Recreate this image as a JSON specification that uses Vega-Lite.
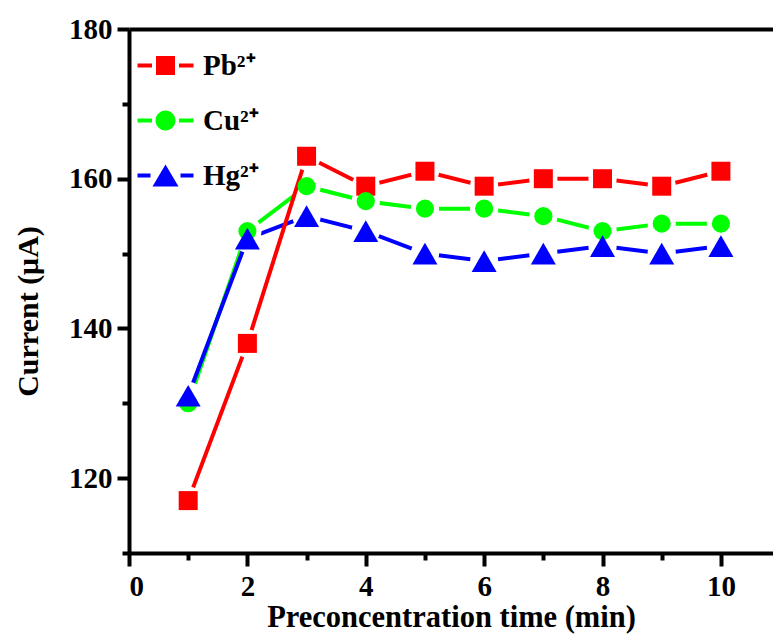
{
  "$schema": "https://vega.github.io/schema/vega-lite/v6.json",
  "width": 644,
  "height": 524,
  "autosize": {"type": "none"},
  "padding": {"left": 129, "top": 29, "right": 0, "bottom": 86},
  "background": "white",
  "config": {"view": {"stroke": null}, "font": "Liberation Serif"},
  "data": {
    "values": [
      {"ion": "Pb", "time": 1, "current": 117},
      {"ion": "Pb", "time": 2, "current": 138},
      {"ion": "Pb", "time": 3, "current": 163},
      {"ion": "Pb", "time": 4, "current": 159},
      {"ion": "Pb", "time": 5, "current": 161},
      {"ion": "Pb", "time": 6, "current": 159},
      {"ion": "Pb", "time": 7, "current": 160},
      {"ion": "Pb", "time": 8, "current": 160},
      {"ion": "Pb", "time": 9, "current": 159},
      {"ion": "Pb", "time": 10, "current": 161},
      {"ion": "Cu", "time": 1, "current": 130},
      {"ion": "Cu", "time": 2, "current": 153},
      {"ion": "Cu", "time": 3, "current": 159},
      {"ion": "Cu", "time": 4, "current": 157},
      {"ion": "Cu", "time": 5, "current": 156},
      {"ion": "Cu", "time": 6, "current": 156},
      {"ion": "Cu", "time": 7, "current": 155},
      {"ion": "Cu", "time": 8, "current": 153},
      {"ion": "Cu", "time": 9, "current": 154},
      {"ion": "Cu", "time": 10, "current": 154},
      {"ion": "Hg", "time": 1, "current": 131},
      {"ion": "Hg", "time": 2, "current": 152},
      {"ion": "Hg", "time": 3, "current": 155},
      {"ion": "Hg", "time": 4, "current": 153},
      {"ion": "Hg", "time": 5, "current": 150},
      {"ion": "Hg", "time": 6, "current": 149},
      {"ion": "Hg", "time": 7, "current": 150},
      {"ion": "Hg", "time": 8, "current": 151},
      {"ion": "Hg", "time": 9, "current": 150},
      {"ion": "Hg", "time": 10, "current": 151}
    ]
  },
  "encoding": {
    "y": {
      "field": "current",
      "type": "quantitative",
      "scale": {"domain": [110, 180], "nice": false, "zero": false},
      "axis": {
        "values": [110, 120, 130, 140, 150, 160, 170, 180],
        "labelExpr": "datum.value % 20 === 0 ? datum.label : ''",
        "format": "d",
        "grid": false,
        "title": "Current (\u03bcA)",
        "domainWidth": 4,
        "domainColor": "black",
        "tickWidth": 4,
        "tickColor": "black",
        "tickSize": {"condition": {"test": "datum.value % 20 === 0", "value": 12}, "value": 7},
        "labelFont": "Liberation Serif",
        "labelFontSize": 29,
        "labelFontWeight": "bold",
        "labelColor": "black",
        "labelPadding": 5,
        "labelBaseline": "middle",
        "titleFont": "Liberation Serif",
        "titleFontSize": 30,
        "titleFontWeight": "bold",
        "titleColor": "black",
        "titleBaseline": "alphabetic",
        "titleX": -92,
        "titleY": 282,
        "titleAngle": -90
      }
    }
  },
  "layer": [
    {
      "transform": [{"filter": "datum.ion !== 'Pb'"}],
      "mark": {"type": "line", "strokeWidth": 4},
      "encoding": {
        "x": {
          "field": "time",
          "type": "quantitative",
          "scale": {"domain": [0, 10.88], "nice": false},
          "axis": {
            "values": [0, 1, 2, 3, 4, 5, 6, 7, 8, 9, 10],
            "labelExpr": "datum.value % 2 === 0 ? datum.label : ''",
            "format": "d",
            "grid": false,
            "title": "Preconcentration time (min)",
            "domainWidth": 4,
            "domainColor": "black",
            "tickWidth": 4,
            "tickColor": "black",
            "tickSize": {"condition": {"test": "datum.value % 2 === 0", "value": 13}, "value": 7},
            "labelFont": "Liberation Serif",
            "labelFontSize": 29,
            "labelFontWeight": "bold",
            "labelColor": "black",
            "labelPadding": 6,
            "titleFont": "Liberation Serif",
            "titleFontSize": 30.5,
            "titleFontWeight": "bold",
            "titleColor": "black",
            "titleBaseline": "alphabetic",
            "titleY": 73
          }
        },
        "detail": {"field": "ion", "type": "nominal"},
        "color": {
          "condition": [
            {"test": "datum.ion === 'Pb'", "value": "#ff0000"},
            {"test": "datum.ion === 'Cu'", "value": "#00ff00"}
          ],
          "value": "#0000ff"
        }
      }
    },
    {
      "transform": [{"filter": "datum.ion !== 'Pb'"}],
      "mark": {"type": "point", "shape": "circle", "filled": true, "color": "white", "opacity": 1, "size": 800},
      "encoding": {
        "x": {"field": "time", "type": "quantitative", "axis": null}
      }
    },
    {
      "transform": [{"filter": "datum.ion === 'Pb'"}],
      "mark": {"type": "line", "strokeWidth": 4, "color": "#ff0000"},
      "encoding": {
        "x": {"field": "time", "type": "quantitative", "axis": null}
      }
    },
    {
      "transform": [{"filter": "datum.ion === 'Pb'"}],
      "mark": {"type": "point", "shape": "circle", "filled": true, "color": "white", "opacity": 1, "size": 800},
      "encoding": {
        "x": {"field": "time", "type": "quantitative", "axis": null}
      }
    },
    {
      "mark": {"type": "point", "filled": true, "opacity": 1},
      "encoding": {
        "x": {
          "field": "time",
          "type": "quantitative",
          "axis": {"orient": "top", "domain": true, "domainWidth": 4, "domainColor": "black", "ticks": false, "labels": false, "grid": false, "title": null}
        },
        "color": {
          "condition": [
            {"test": "datum.ion === 'Pb'", "value": "#ff0000"},
            {"test": "datum.ion === 'Cu'", "value": "#00ff00"}
          ],
          "value": "#0000ff"
        },
        "shape": {
          "condition": [
            {"test": "datum.ion === 'Hg'", "value": "triangle-up"},
            {"test": "datum.ion === 'Cu'", "value": "circle"}
          ],
          "value": "square"
        },
        "size": {
          "condition": [
            {"test": "datum.ion === 'Hg'", "value": 625},
            {"test": "datum.ion === 'Cu'", "value": 330}
          ],
          "value": 361
        }
      }
    },
    {
      "mark": {"type": "point", "filled": true, "opacity": 0, "size": 400},
      "encoding": {
        "x": {"field": "time", "type": "quantitative", "axis": null},
        "color": {
          "field": "ion",
          "type": "nominal",
          "scale": {"domain": ["Pb", "Cu", "Hg"], "range": ["#ff0000", "#00ff00", "#0000ff"]},
          "legend": {
            "orient": "none",
            "legendX": -6,
            "legendY": 22,
            "title": null,
            "padding": 0,
            "symbolSize": 400,
            "symbolOffset": 0,
            "symbolOpacity": 1,
            "symbolStrokeWidth": 0,
            "labelOffset": 51,
            "rowPadding": 25,
            "labelFont": "Liberation Serif",
            "labelFontSize": 29,
            "labelFontWeight": "bold",
            "labelColor": "black",
            "labelLimit": 300,
            "labelExpr": "datum.label === 'Pb' ? 'Pb\u00b2\u207a' : datum.label === 'Cu' ? 'Cu\u00b2\u207a' : 'Hg\u00b2\u207a'"
          }
        },
        "shape": {
          "field": "ion",
          "type": "nominal",
          "scale": {
            "domain": ["Pb", "Cu", "Hg"],
            "range": [
              "M 0 -0.2 L 1.45 -0.2 L 1.45 0.2 L 0 0.2 Z M 4.15 -0.2 L 5.6 -0.2 L 5.6 0.2 L 4.15 0.2 Z M 1.85 -0.95 L 3.75 -0.95 L 3.75 0.95 L 1.85 0.95 Z",
              "M 0 -0.2 L 1.45 -0.2 L 1.45 0.2 L 0 0.2 Z M 4.15 -0.2 L 5.6 -0.2 L 5.6 0.2 L 4.15 0.2 Z M 1.8 0 A 1 1 0 1 0 3.8 0 A 1 1 0 1 0 1.8 0 Z",
              "M 0 -0.2 L 1.3 -0.2 L 1.3 0.2 L 0 0.2 Z M 4.3 -0.2 L 5.6 -0.2 L 5.6 0.2 L 4.3 0.2 Z M 2.8 -1.1 L 4.1 1.1 L 1.5 1.1 Z"
            ]
          },
          "legend": {
            "orient": "none",
            "legendX": -6,
            "legendY": 22,
            "title": null,
            "padding": 0,
            "symbolSize": 400,
            "symbolOffset": 0,
            "symbolOpacity": 1,
            "symbolStrokeWidth": 0,
            "labelOffset": 51,
            "rowPadding": 25,
            "labelFont": "Liberation Serif",
            "labelFontSize": 29,
            "labelFontWeight": "bold",
            "labelColor": "black",
            "labelLimit": 300,
            "labelExpr": "datum.label === 'Pb' ? 'Pb\u00b2\u207a' : datum.label === 'Cu' ? 'Cu\u00b2\u207a' : 'Hg\u00b2\u207a'"
          }
        }
      }
    }
  ],
  "resolve": {"axis": {"x": "independent"}}
}
